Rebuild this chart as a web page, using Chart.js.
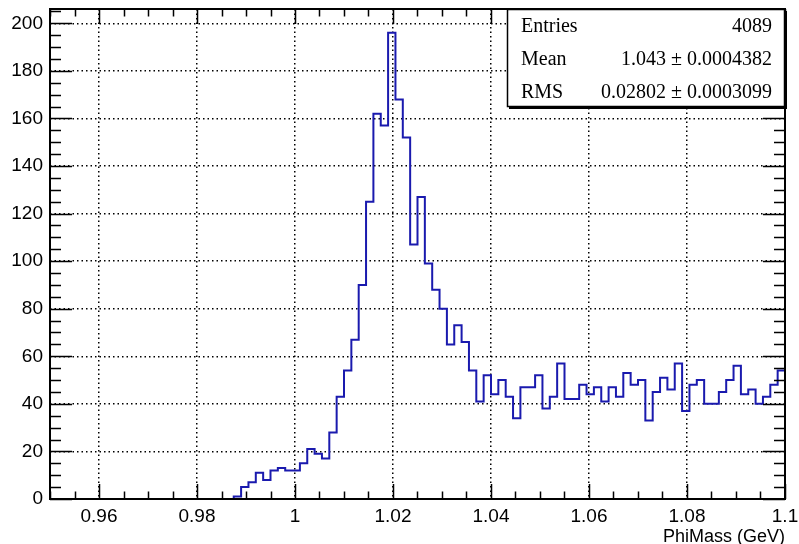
<!DOCTYPE html>
<html>
<head>
<meta charset="utf-8">
<script src="https://cdn.jsdelivr.net/npm/chart.js@4.4.1/dist/chart.umd.min.js"></script>
<style>
  html, body { margin: 0; padding: 0; background: #fff; }
  canvas { display: block; }
</style>
</head>
<body>
<canvas id="phiMass" width="799" height="544"></canvas>
<script>
// binning of the PhiMass histogram
const xMin = 0.95, xMax = 1.1, nBins = 100;
const yMax = 206;

// bin contents, low edge to high edge
const counts = [
  0, 0, 0, 0, 0, 0, 0, 0, 0, 0,
  0, 0, 0, 0, 0, 0, 0, 0, 0, 0,
  0, 0, 0, 0, 0, 1, 5, 7, 11, 8,
  12, 13, 12, 12, 15, 21, 19, 17, 28, 43,
  54, 67, 90, 125, 162, 157, 196, 168, 152, 107,
  127, 99, 88, 80, 65, 73, 66, 54, 41, 52,
  44, 50, 43, 34, 47, 47, 52, 38, 43, 57,
  42, 42, 48, 44, 47, 41, 47, 43, 53, 48,
  50, 33, 45, 51, 46, 57, 37, 48, 50, 40,
  40, 45, 50, 56, 44, 46, 40, 43, 48, 54
];

const xTicks = [0.96, 0.98, 1, 1.02, 1.04, 1.06, 1.08, 1.1];
const yTicks = [0, 20, 40, 60, 80, 100, 120, 140, 160, 180, 200];
const xMinorStep = 0.005, yMinorStep = 5;

const statNames = ["Entries", "Mean", "RMS"];
const statValues = ["4089", "1.043 \u00b1 0.0004382", "0.02802 \u00b1 0.0003099"];

const binWidth = (xMax - xMin) / nBins;
const points = counts.map((c, i) => ({ x: xMin + i * binWidth, y: c }));
points.push({ x: xMax, y: counts[nBins - 1] });

const sans = "'Liberation Sans', Arial, sans-serif";
const serif = "'Liberation Serif', 'Times New Roman', serif";

// frame, inward ticks on all four sides, and the stats box
const rootFrame = {
  id: 'rootFrame',
  afterDraw(chart) {
    const { ctx, chartArea: a, scales: { x, y } } = chart;
    ctx.save();
    ctx.strokeStyle = '#000';
    ctx.lineWidth = 1.5;
    ctx.beginPath();
    for (let k = 0; xMin + k * xMinorStep <= xMax + 1e-9; k++) {
      const v = xMin + k * xMinorStep;
      const px = Math.round(x.getPixelForValue(v)) + 0.5;
      const major = Math.abs(v / 0.02 - Math.round(v / 0.02)) < 1e-6;
      const len = major ? 15 : 7.5;
      ctx.moveTo(px, a.bottom); ctx.lineTo(px, a.bottom - len);
      ctx.moveTo(px, a.top); ctx.lineTo(px, a.top + len);
    }
    for (let k = 0; k * yMinorStep <= yMax; k++) {
      const v = k * yMinorStep;
      const py = Math.round(y.getPixelForValue(v)) + 0.5;
      const len = v % 20 === 0 ? 22 : 11;
      ctx.moveTo(a.left, py); ctx.lineTo(a.left + len, py);
      ctx.moveTo(a.right, py); ctx.lineTo(a.right - len, py);
    }
    ctx.stroke();
    ctx.lineWidth = 2;
    ctx.strokeRect(a.left, a.top, a.right - a.left, a.bottom - a.top);

    // stats box
    const bx = 507, by = a.top, bw = a.right - 507, bh = 98;
    ctx.fillStyle = '#fff';
    ctx.fillRect(bx, by, bw, bh);
    ctx.lineWidth = 1.5;
    ctx.strokeRect(bx + 0.5, by + 0.5, bw - 1, bh - 1);
    ctx.fillStyle = '#000';
    ctx.fillRect(bx + 2, by + bh - 1, bw, 3);
    ctx.fillRect(bx + bw - 1, by + 2, 3, bh);
    ctx.font = '20px ' + serif;
    ctx.textBaseline = 'middle';
    statNames.forEach((name, i) => {
      const ty = by + 18 + i * 33;
      ctx.textAlign = 'left';
      ctx.fillText(name, bx + 14, ty);
      ctx.textAlign = 'right';
      ctx.fillText(statValues[i], bx + bw - 13, ty);
    });
    ctx.restore();
  }
};

new Chart(document.getElementById('phiMass'), {
  type: 'line',
  data: {
    datasets: [{
      data: points,
      stepped: 'before',
      borderColor: '#1a1aae',
      borderWidth: 2,
      pointRadius: 0,
      fill: false
    }]
  },
  options: {
    responsive: false,
    animation: false,
    layout: { padding: { left: 0, top: 9, right: 14, bottom: 0 } },
    plugins: { legend: { display: false }, tooltip: { enabled: false } },
    scales: {
      x: {
        type: 'linear',
        min: xMin,
        max: xMax,
        afterBuildTicks: s => { s.ticks = xTicks.map(v => ({ value: v })); },
        afterFit: s => { s.height = 45; s.paddingLeft = 0; s.paddingRight = 0; },
        ticks: {
          padding: 6,
          color: '#000',
          font: { family: sans, size: 19 },
          maxRotation: 0,
          callback: v => String(v)
        },
        grid: { color: '#000', lineWidth: 1.5, drawTicks: false },
        border: { display: false, dash: [1.5, 3] },
        title: {
          display: true,
          text: 'PhiMass (GeV)',
          align: 'end',
          color: '#000',
          font: { family: sans, size: 18, lineHeight: 1 },
          padding: { top: 0, bottom: -2 }
        }
      },
      y: {
        type: 'linear',
        min: 0,
        max: yMax,
        afterBuildTicks: s => { s.ticks = yTicks.map(v => ({ value: v })); },
        afterFit: s => { s.width = 50; s.paddingTop = 0; s.paddingBottom = 0; },
        ticks: {
          padding: 7,
          color: '#000',
          font: { family: sans, size: 19 }
        },
        grid: { color: '#000', lineWidth: 1.5, drawTicks: false },
        border: { display: false, dash: [1.5, 3] }
      }
    }
  },
  plugins: [rootFrame]
});
</script>
</body>
</html>
